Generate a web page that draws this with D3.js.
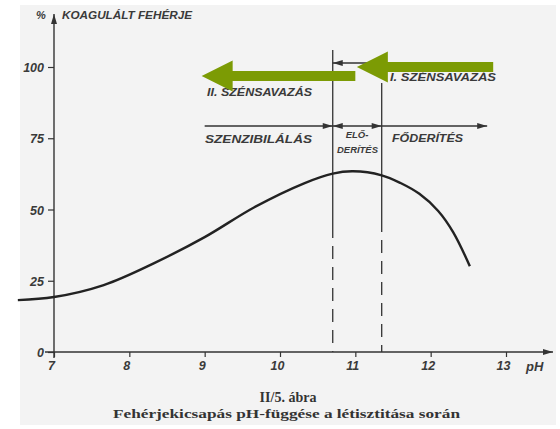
<!DOCTYPE html>
<html lang="hu">
<head>
  <meta charset="UTF-8">
  <title>Fehérjekicsapás pH-függése</title>
  <script src="https://d3js.org/d3.v7.min.js"></script>
  <style>
    body { margin: 0; background: #fff; }
    svg { display: block; }
    .lbl { font-family: "Liberation Sans", "DejaVu Sans", sans-serif; font-style: italic; font-weight: bold; fill: #3a3a3a; }
    .cap { font-family: "Liberation Serif", "DejaVu Serif", serif; font-weight: bold; fill: #333; }
  </style>
</head>
<body>
<svg></svg>
<script>
  // adatok
  const phTicks = [7, 8, 9, 10, 11, 12, 13];
  const pctTicks = [0, 25, 50, 75, 100];
  const curvePh  = [6.52, 7.0, 7.66, 8.33, 9.0, 9.66, 10.32, 10.7, 10.97, 11.35, 11.6, 11.85, 12.1, 12.3, 12.52];
  const curvePct = [18.2, 19.3, 23.5, 31.2, 40.3, 50.8, 59.2, 62.6, 63.4, 62.0, 59.3, 55.5, 49.5, 42.0, 30.1];
  const boundaries = [10.7, 11.35];          // előderítés határai
  const phases = ["SZENZIBILÁLÁS", "ELŐDERÍTÉS", "FŐDERÍTÉS"];
  const phaseFrom = [9.0, 10.7, 11.35];
  const phaseTo   = [10.7, 11.35, 12.75];
  const co2Labels = ["I. SZÉNSAVAZÁS", "II. SZÉNSAVAZÁS"];

  const W = 560, H = 429;
  const svg = d3.select("svg").attr("width", W).attr("height", H);

  const x = d3.scaleLinear().domain([7, 13]).range([54, 506]);
  const y = d3.scaleLinear().domain([0, 100]).range([352, 67]);

  // szkennelt lap háttere
  svg.append("rect").attr("x", 20).attr("y", 5).attr("width", 536).attr("height", 420).attr("fill", "#f3f3f3");

  const defs = svg.append("defs");
  defs.append("marker").attr("id", "ah").attr("viewBox", "0 0 10 6").attr("refX", 10).attr("refY", 3)
    .attr("markerWidth", 16).attr("markerHeight", 6).attr("markerUnits", "userSpaceOnUse").attr("orient", "auto-start-reverse")
    .append("path").attr("d", "M0,0L10,3L0,6Z").attr("fill", "#333");

  const ink = "#333";

  // tengelyek
  svg.append("line").attr("x1", 45).attr("x2", 553).attr("y1", y(0)).attr("y2", y(0))
    .attr("stroke", ink).attr("stroke-width", 1.4).attr("marker-end", "url(#ah)");
  svg.append("line").attr("x1", x(7)).attr("x2", x(7)).attr("y1", y(0) + 6).attr("y2", 14)
    .attr("stroke", ink).attr("stroke-width", 1.4).attr("marker-end", "url(#ah)");

  const xAxis = d3.axisBottom(x).tickValues(phTicks).tickSize(5).tickFormat(d3.format("d"));
  const gx = svg.append("g").attr("transform", `translate(0,${y(0)})`).call(xAxis);
  gx.select(".domain").remove();
  gx.selectAll("line").attr("stroke", ink).attr("stroke-width", 1.2);
  gx.selectAll("text").attr("class", "lbl").style("font-size", "12.5px").attr("dy", null).attr("y", 18).attr("dx", -3);

  const yAxis = d3.axisLeft(y).tickValues(pctTicks).tickSize(6);
  const gy = svg.append("g").attr("transform", `translate(${x(7)},0)`).call(yAxis);
  gy.select(".domain").remove();
  gy.selectAll("line").attr("stroke", ink).attr("stroke-width", 1.2);
  gy.selectAll("text").attr("class", "lbl").style("font-size", "12.5px").attr("x", -10).attr("dy", "0.36em");

  svg.append("text").attr("class", "lbl").attr("x", 36).attr("y", 19).style("font-size", "11px").text("%");
  svg.append("text").attr("class", "lbl").attr("x", 62).attr("y", 19).style("font-size", "11px")
    .attr("textLength", 130).attr("lengthAdjust", "spacingAndGlyphs").text("KOAGULÁLT FEHÉRJE");
  svg.append("text").attr("class", "lbl").attr("x", 526).attr("y", 371).style("font-size", "13px").text("pH");

  // határvonalak: fent folytonos, lent szaggatott
  const topY = [50, 83], solidEnd = [238, 232];
  boundaries.forEach((b, i) => {
    svg.append("line").attr("x1", x(b)).attr("x2", x(b)).attr("y1", topY[i]).attr("y2", solidEnd[i])
      .attr("stroke", ink).attr("stroke-width", 1.3);
    svg.append("line").attr("x1", x(b)).attr("x2", x(b)).attr("y1", solidEnd[i] + 8).attr("y2", y(0))
      .attr("stroke", ink).attr("stroke-width", 1.3).attr("stroke-dasharray", "13,8");
  });

  // görbe
  const line = d3.line().x(d => x(d[0])).y(d => y(d[1])).curve(d3.curveCatmullRom.alpha(0.5));
  svg.append("path").datum(d3.zip(curvePh, curvePct)).attr("d", line)
    .attr("fill", "none").attr("stroke", "#222").attr("stroke-width", 2.4);

  // fázis nyilak
  const rowY = y(79.3);
  phases.forEach((p, i) => {
    const l = svg.append("line").attr("x1", x(phaseFrom[i])).attr("x2", x(phaseTo[i]))
      .attr("y1", rowY).attr("y2", rowY).attr("stroke", ink).attr("stroke-width", 1.4)
      .attr("marker-end", "url(#ah)");
    if (i === 1) l.attr("marker-start", "url(#ah)");
  });
  svg.append("text").attr("class", "lbl").attr("x", 205).attr("y", 143).style("font-size", "11px")
    .attr("textLength", 107).attr("lengthAdjust", "spacingAndGlyphs").text(phases[0]);
  svg.append("text").attr("class", "lbl").attr("x", 357).attr("y", 138).style("font-size", "9.5px")
    .attr("text-anchor", "middle").text("ELŐ-");
  svg.append("text").attr("class", "lbl").attr("x", 337).attr("y", 153).style("font-size", "9.5px")
    .attr("textLength", 41).attr("lengthAdjust", "spacingAndGlyphs").text("DERÍTÉS");
  svg.append("text").attr("class", "lbl").attr("x", 392).attr("y", 142).style("font-size", "11px")
    .attr("textLength", 71).attr("lengthAdjust", "spacingAndGlyphs").text(phases[2]);

  // I. szénsavazás nyila
  svg.append("line").attr("x1", x(boundaries[1])).attr("x2", x(boundaries[0])).attr("y1", y(101.4)).attr("y2", y(101.4))
    .attr("stroke", ink).attr("stroke-width", 1.4).attr("marker-end", "url(#ah)");
  svg.append("text").attr("class", "lbl").attr("x", 390).attr("y", 81).style("font-size", "11px")
    .attr("textLength", 106).attr("lengthAdjust", "spacingAndGlyphs").text(co2Labels[0]);
  svg.append("text").attr("class", "lbl").attr("x", 207).attr("y", 96).style("font-size", "11px")
    .attr("textLength", 105).attr("lengthAdjust", "spacingAndGlyphs").text(co2Labels[1]);

  // zöld kiemelő nyilak
  const green = "#7c9b04";
  function bigArrow(tipPh, endPh, pct) {
    const tx = x(tipPh), ex = x(endPh), cy = y(pct);
    const hl = 31, hh = 15.5, sh = 5;
    const p = d3.path();
    p.moveTo(tx, cy); p.lineTo(tx + hl, cy - hh); p.lineTo(tx + hl, cy - sh);
    p.lineTo(ex, cy - sh); p.lineTo(ex, cy + sh); p.lineTo(tx + hl, cy + sh);
    p.lineTo(tx + hl, cy + hh); p.closePath();
    svg.append("path").attr("d", p.toString()).attr("fill", green);
  }
  bigArrow(8.96, 11.0, 96.8);
  bigArrow(11.02, 12.83, 100.0);

  // ábraaláírás
  svg.append("text").attr("class", "cap").attr("x", 288).attr("y", 402).style("font-size", "14px")
    .attr("text-anchor", "middle").text("II/5. ábra");
  svg.append("text").attr("class", "cap").attr("x", 113).attr("y", 418).style("font-size", "13px")
    .attr("textLength", 347).attr("lengthAdjust", "spacingAndGlyphs").text("Fehérjekicsapás pH-függése a létisztitása során");
</script>
</body>
</html>
